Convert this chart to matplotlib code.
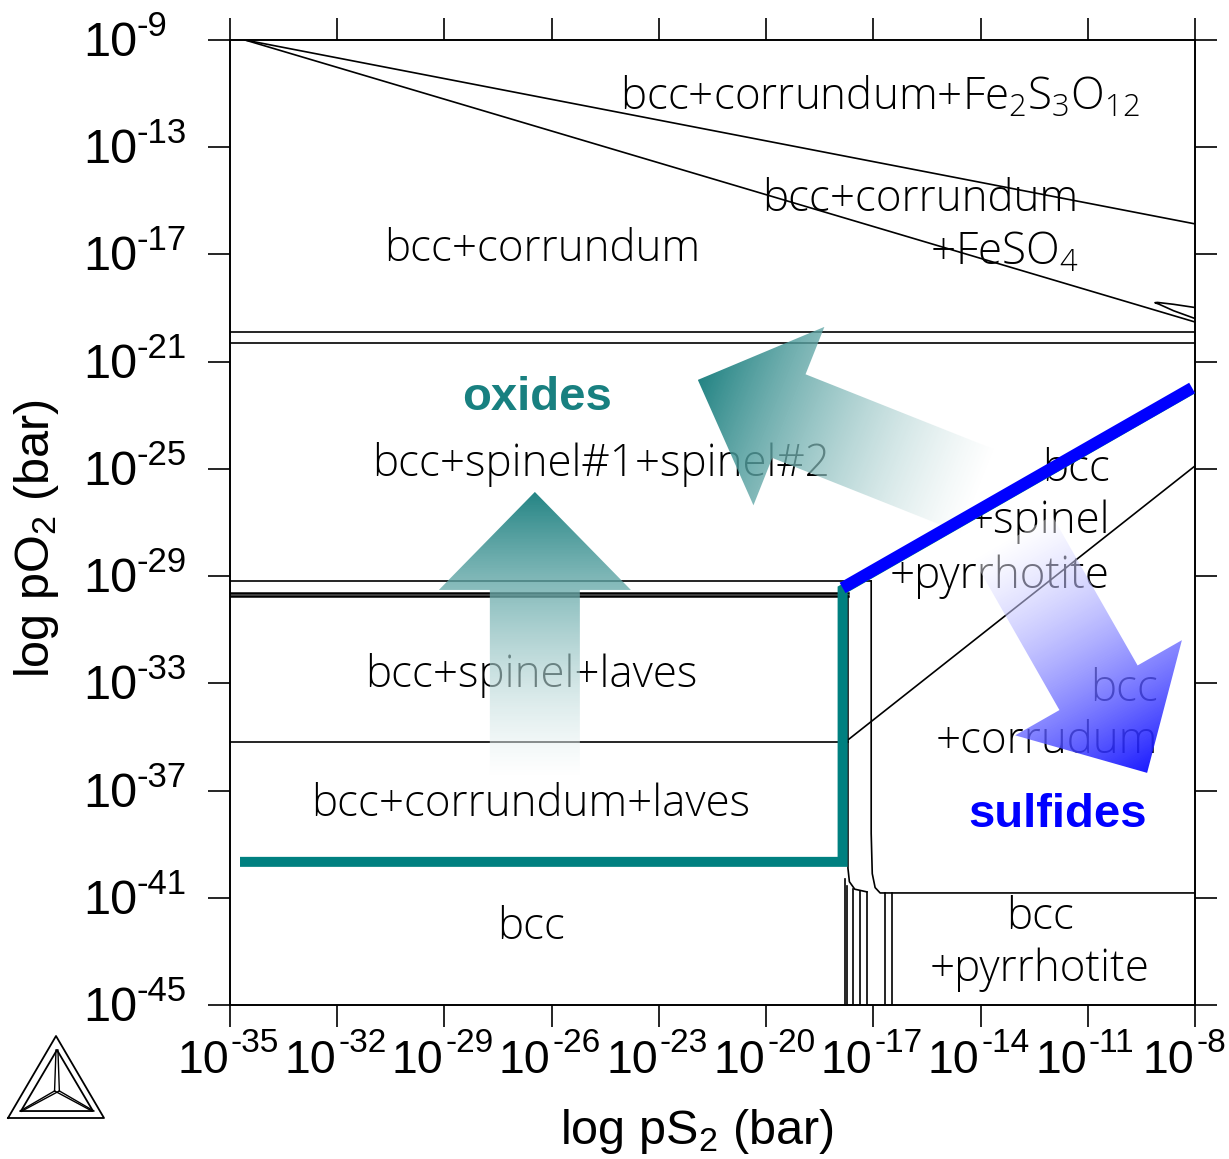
import numpy as np
import matplotlib.pyplot as plt
from matplotlib import font_manager as fm
from matplotlib.patches import Polygon

W, H = 1229, 1159

installed = {f.name for f in fm.fontManager.ttflist}
LABEL_FONT = 'Open Sans' if 'Open Sans' in installed else 'DejaVu Sans'

# axis ranges, in log10 units
x_range = [-35, -8]
y_range = [-45, -9]
x_ticks = list(range(-35, -7, 3))
y_ticks = list(range(-9, -46, -4))

# phase boundaries (log pS2, log pO2)
top_line_x = [-34.58, -8.0]
top_line_y = [-9.0, -15.86]
feso4_line_x = [-34.58, -8.0]
feso4_line_y = [-9.0, -19.52]
lens_x = [-8.0, -8.6, -9.05, -9.12, -9.0, -8.6, -8.0]
lens_y = [-18.98, -18.86, -18.79, -18.80, -18.86, -19.10, -19.39]

hline_y = [-19.88, -20.29, -29.18, -29.64, -29.74, -35.18]
hline_xend = [-8.0, -8.0, -17.06, -17.71, -17.71, -17.71]
hline_lw = [1.2, 1.2, 1.2, 1.8, 1.8, 1.2]

pyrr_x = [-17.06, -17.06, -17.03, -16.95, -16.81, -8.0]
pyrr_y = [-29.18, -38.6, -40.1, -40.62, -40.82, -40.82]

bound_x = [-17.71, -17.71, -17.67, -17.52, -17.18]
bound_y = [-29.74, -39.9, -40.4, -40.68, -40.78]
bundle_x = [-17.79, -17.74, -17.57, -17.37, -17.18, -16.67, -16.48]
bundle_top = [-40.3, -40.55, -40.68, -40.74, -40.78, -40.82, -40.82]

diag_x = [-17.71, -8.0]
diag_y = [-35.11, -24.89]

# highlighted paths
teal_x = [-34.72, -17.86, -17.86, -8.08]
teal_y = [-39.66, -39.66, -29.50, -22.03]
blue_x = [-17.86, -8.08]
blue_y = [-29.44, -21.98]

# region labels: text, x, y, ha
labels = [
    ('bcc+corrundum+Fe$\\mathregular{_2}$S$\\mathregular{_3}$O$\\mathregular{_{12}}$', -16.81, -11.16, 'center'),
    ('bcc+corrundum', -26.27, -16.83, 'center'),
    ('bcc+corrundum', -11.27, -14.97, 'right'),
    ('+FeSO$\\mathregular{_4}$', -11.27, -16.95, 'right'),
    ('bcc+spinel#1+spinel#2', -24.62, -24.85, 'center'),
    ('bcc', -10.38, -25.04, 'right'),
    ('+spinel', -10.38, -26.98, 'right'),
    ('+pyrrhotite', -10.38, -29.03, 'right'),
    ('bcc+spinel+laves', -26.58, -32.69, 'center'),
    ('bcc', -9.03, -33.25, 'right'),
    ('+corrudum', -9.03, -35.19, 'right'),
    ('bcc+corrundum+laves', -26.58, -37.54, 'center'),
    ('bcc', -26.58, -42.13, 'center'),
    ('bcc', -12.34, -41.75, 'center'),
    ('+pyrrhotite', -12.34, -43.69, 'center'),
]
oxides_pos = [-26.41, -22.36]
sulfides_pos = [-11.83, -37.91]

# arrows: tail, head (log units)
up_arrow = [(-26.47, -36.42), (-26.47, -25.86)]
teal_arrow = [(-14.10, -25.82), (-21.91, -21.68)]
blue_arrow = [(-13.09, -27.58), (-9.34, -36.34)]

TEAL = (0.09, 0.49, 0.49)
BLUE = (0.06, 0.06, 1.0)

fig = plt.figure(figsize=(W / 100, H / 100), dpi=100)
ax = fig.add_axes([230 / W, 1 - 1005 / H, 965 / W, 965 / H])
ax.set_xlim(x_range)
ax.set_ylim(y_range)

lw = 1.2
ax.plot(top_line_x, top_line_y, color='black', lw=lw)
ax.plot(feso4_line_x, feso4_line_y, color='black', lw=lw)
ax.plot(lens_x, lens_y, color='black', lw=lw)
for y, xe, w in zip(hline_y, hline_xend, hline_lw):
    ax.plot([x_range[0], xe], [y, y], color='black', lw=w)
ax.plot(pyrr_x, pyrr_y, color='black', lw=lw)
ax.plot(bound_x, bound_y, color='black', lw=lw)
for x, yt in zip(bundle_x, bundle_top):
    ax.plot([x, x], [yt, y_range[0]], color='black', lw=lw)
ax.plot(diag_x, diag_y, color='black', lw=lw)

ax.plot(teal_x, teal_y, color='#008080', lw=7.2, solid_capstyle='butt',
        solid_joinstyle='miter', zorder=5)
ax.plot(blue_x, blue_y, color='#0000ff', lw=8.6, solid_capstyle='butt', zorder=6)

for txt, x, y, ha in labels:
    ax.text(x, y, txt, ha=ha, va='center', fontsize=31.7, family=LABEL_FONT,
            fontweight='light', color='black', zorder=3)
ax.text(*oxides_pos, 'oxides', ha='center', va='center', fontsize=34,
        family='Liberation Sans', fontweight='bold', color='#188080', zorder=7)
ax.text(*sulfides_pos, 'sulfides', ha='center', va='center', fontsize=34,
        family='Liberation Sans', fontweight='bold', color='#0000ff', zorder=7)


def gradient_arrow(ax, tail, head, rgb, shaft=90, head_w=192, head_l=98, a0=0.45, a1=0.95):
    T = ax.transData
    p0 = T.transform(tail)
    p1 = T.transform(head)
    d = p1 - p0
    L = np.hypot(*d)
    u = d / L
    n = np.array([-u[1], u[0]])
    b = p1 - u * head_l
    pts = np.array([p0 + n * shaft / 2, b + n * shaft / 2, b + n * head_w / 2, p1,
                    b - n * head_w / 2, b - n * shaft / 2, p0 - n * shaft / 2])
    poly = Polygon(T.inverted().transform(pts), closed=True, fc='none', ec='none')
    ax.add_patch(poly)
    lo = pts.min(0)
    hi = pts.max(0)
    nx, ny = int(hi[0] - lo[0]) + 1, int(hi[1] - lo[1]) + 1
    GX, GY = np.meshgrid(np.linspace(lo[0], hi[0], nx), np.linspace(lo[1], hi[1], ny))
    t = np.clip(((GX - p0[0]) * u[0] + (GY - p0[1]) * u[1]) / L, 0, 1)
    rgba = np.empty((ny, nx, 4))
    for k in range(3):
        rgba[..., k] = 1 - t * (1 - rgb[k])
    rgba[..., 3] = a0 + (a1 - a0) * t
    (x0, y0), (x1, y1) = T.inverted().transform([lo, hi])
    im = ax.imshow(rgba, origin='lower', extent=[x0, x1, y0, y1], aspect='auto',
                   interpolation='bilinear', zorder=4)
    im.set_clip_path(poly)


gradient_arrow(ax, *up_arrow, TEAL)
gradient_arrow(ax, *teal_arrow, TEAL)
gradient_arrow(ax, *blue_arrow, BLUE)
ax.set_xlim(x_range)
ax.set_ylim(y_range)

# axes frame and ticks
for s in ax.spines.values():
    s.set_linewidth(1.4)
ax.set_xticks(x_ticks)
ax.set_yticks(y_ticks)
ax.tick_params(direction='out', length=16, width=1.2, top=True, right=True,
               labelbottom=False, labelleft=False)

pt = 0.72
for v in x_ticks:
    ax.annotate('10', xy=(v, 0), xycoords=('data', 'axes fraction'),
                xytext=(-1 * pt, -68 * pt), textcoords='offset points',
                ha='right', va='baseline', fontsize=33.5, family='Liberation Sans')
    ax.annotate('-%d' % abs(v), xy=(v, 0), xycoords=('data', 'axes fraction'),
                xytext=(1 * pt, -47 * pt), textcoords='offset points',
                ha='left', va='baseline', fontsize=24, family='Liberation Sans')
for v in y_ticks:
    ax.annotate('10', xy=(0, v), xycoords=('axes fraction', 'data'),
                xytext=(-93 * pt, -16 * pt), textcoords='offset points',
                ha='right', va='baseline', fontsize=35, family='Liberation Sans')
    ax.annotate('-%d' % abs(v), xy=(0, v), xycoords=('axes fraction', 'data'),
                xytext=(-94 * pt, 4 * pt), textcoords='offset points',
                ha='left', va='baseline', fontsize=25, family='Liberation Sans')

fig.text(697 / W, 1 - 1132 / H, 'log pS$\\mathregular{_2}$ (bar)', ha='center', va='center',
         fontsize=35, family='Liberation Sans')
fig.text(37 / W, 1 - 538 / H, 'log pO$\\mathregular{_2}$ (bar)', ha='center', va='center',
         rotation=90, fontsize=35, family='Liberation Sans')

# Thermo-Calc logo
lg = fig.add_axes([8 / W, 1 - 1118 / H, 96 / W, 82 / H])
lg.set_xlim(0, 1)
lg.set_ylim(0, 1)
lg.axis('off')
outer = np.array([[0, 0], [1, 0], [0.5, 1], [0, 0]])
inner = np.array([[0.135, 0.085], [0.885, 0.085], [0.51, 0.83], [0.135, 0.085]])
center = np.array([0.51, 0.33])
lg.plot(outer[:, 0], outer[:, 1], color='black', lw=1.3, clip_on=False)
lg.plot(inner[:, 0], inner[:, 1], color='black', lw=1.3, clip_on=False)
for vx, vy in inner[:3]:
    for off in (-0.025, 0.025):
        lg.plot([center[0] + off, vx + off * 0.4], [center[1], vy], color='black', lw=1.0)

fig.savefig('out.png', dpi=100)
